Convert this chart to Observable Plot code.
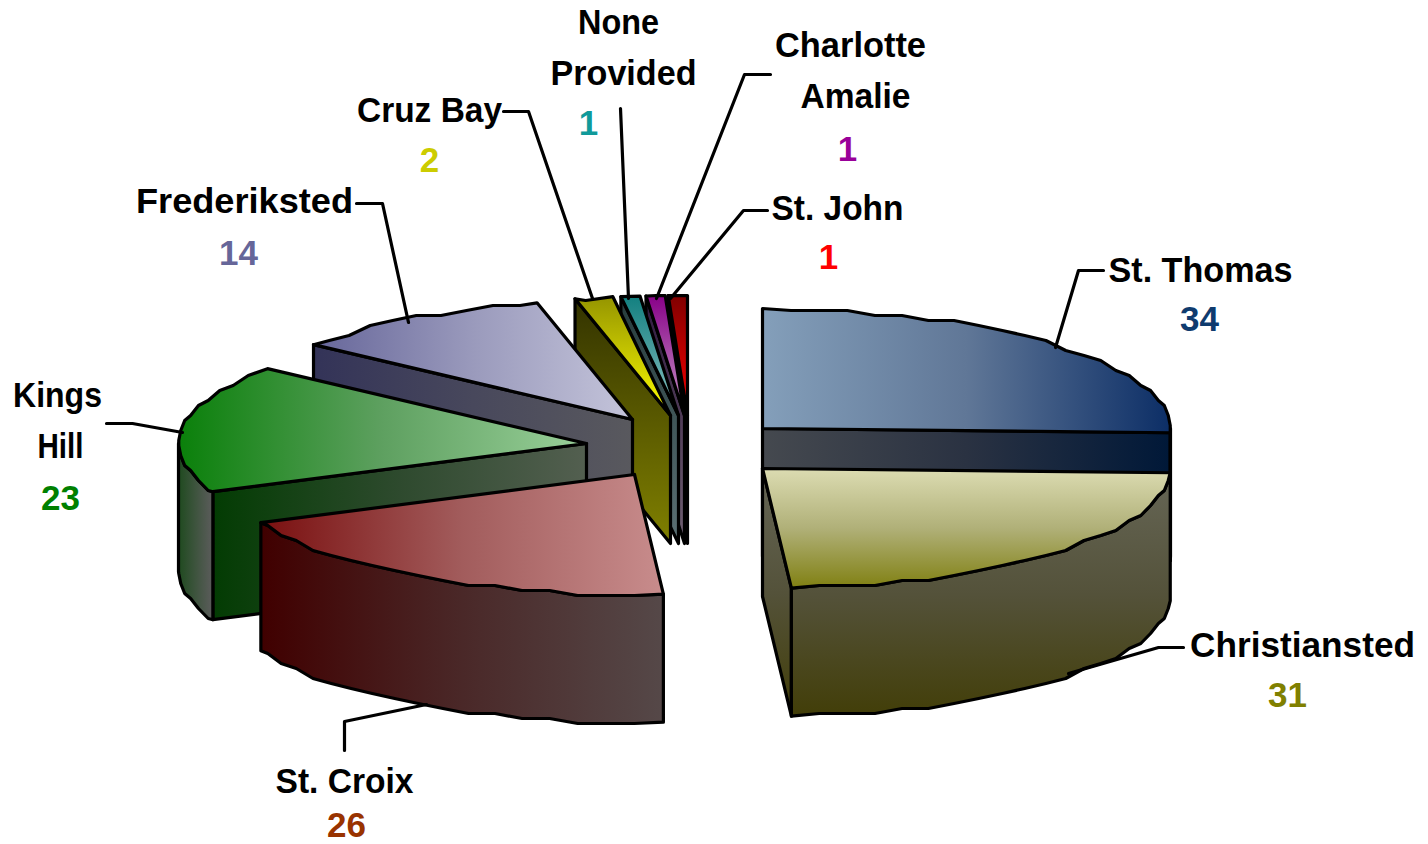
<!DOCTYPE html>
<html>
<head>
<meta charset="utf-8">
<style>html,body{margin:0;padding:0;background:#fff}svg{display:block}</style>
<script src="https://cdn.jsdelivr.net/npm/d3@7"></script>
<script src="https://cdn.jsdelivr.net/npm/@observablehq/plot@0.6"></script>
</head>
<body>
<div id="chart"></div>
<script>
// ---- data ----
const categories = ["St. Thomas","Christiansted","St. Croix","Kings Hill","Frederiksted","Cruz Bay","None Provided","Charlotte Amalie","St. John"];
const values = [34,31,26,23,14,2,1,1,1];
const valueColors = ["#0f3b6e","#808000","#993300","#008000","#666699","#cccc00","#109a9a","#990099","#ff0000"];

// ---- gradients: [direction, evenly spaced colours...] per slice ----
const topFills  = [["h","#849fba","#607797","#0c2e66"],["v","#dcdcb2","#b0b078","#808012"],["h","#7a0f0f","#a25c5c","#c88c8c"],["h","#0a800a","#5ea060","#9ad09a"],["h","#66669a","#9a9abc","#c4c4da"],["v","#959500","#c8c800","#ffff00"],["v","#128080","#50a0a0","#90c8c8"],["v","#880088","#a850a8","#c890c8"],["v","#800000","#c00000","#ff0000"]];
const faceFills = [["h","#45494f","#2a3242","#001838"],["v","#666656","#54523a","#423e08"],["h","#400000","#4a2828","#554848"],["h","#033c03","#2e4a2e","#535f50"],["h","#333358","#48485c","#59595e"],["v","#333300","#5a5a00","#808000"],["v","#263c3c","#405658","#5c7074"],["v","#301a40","#503c58","#706072"],["v","#1a0000","#0c0000","#000000"]];
const sideFills = [["h","#45494f","#2a3242","#001838"],["v","#666656","#54523a","#423e08"],["h","#400000","#4a2828","#554848"],["h","#1f4a1f","#3e543e","#5c5c5c"],["h","#333358","#48485c","#59595e"],["v","#333300","#5a5a00","#808000"],["v","#263c3c","#405658","#5c7074"],["v","#301a40","#503c58","#706072"],["v","#1a0000","#0c0000","#000000"]];

// ---- layout of the exploded 3-D pie ----
const radiusX = 408, radiusY = 120, depth = 128, strokeW = 3.2, stepDeg = 4, grain = 5;
const apexX = [762,762,634,586,632,670,678,684,687];
const apexY = [428,468,474,443,419,415,415,415,415];
const drawOrder = [8,7,6,5,4,3,2,0,1];

// ---- labels and leaders ----
const labelText = ["St. Thomas","Christiansted","St. Croix","Kings","Hill","Frederiksted","Cruz Bay","None","Provided","Charlotte","Amalie","St. John"];
const labelX = [1200,1302,344,57,60,244,429,618,623,850,855,837];
const labelY = [270,645,781,395,446,201,110,22,73,45,96,208];
const labelWidth = [184,225,138,89,46,217,145,81,146,151,110,132];
const valueX = [1199,1287,346,60,238,429,588,847,828];
const valueY = [319,695,825,498,253,160,123,149,257];
const leaderPaths = [
  [[1055,347],[1078,270],[1103,270]],
  [[1068,673],[1158,647],[1183,647]],
  [[426,704],[344,721],[344,750]],
  [[182,432],[132,423],[106,423]],
  [[408,322],[382,203],[356,203]],
  [[592,298],[528,111],[503,111]],
  [[628,298],[620,108]],
  [[656,298],[744,74],[770,74]],
  [[670,298],[743,210],[767,210]]
];

// ---- geometry from the values ----
const total = d3.sum(values);
const cum = d3.cumsum(values);
const startA = values.map((v,i) => (cum[i]-v)/total*360);
const endA = values.map((v,i) => cum[i]/total*360);
const rad = a => a*Math.PI/180;
const ell = (i,a) => [apexX[i]+radiusX*Math.sin(rad(a)), apexY[i]-radiusY*Math.cos(rad(a))];
const snap = p => [p[0], Math.round(p[1]/grain)*grain];
function arc(i,a0,a1){
  const pts=[ell(i,a0)];
  const first=Math.ceil((a0+1)/stepDeg)*stepDeg;
  for(let a=first;a<a1-1;a+=stepDeg) pts.push(snap(ell(i,a)));
  pts.push(ell(i,a1));
  return pts;
}
const drop = p => [p[0],p[1]+depth];
const topPoly = i => [[apexX[i],apexY[i]],...arc(i,startA[i],endA[i])];
const facePoly = (i,a) => { const c=[apexX[i],apexY[i]], e=ell(i,a); return [c,e,drop(e),drop(c)]; };
function sidePoly(i){
  const a0=Math.max(startA[i],90), a1=Math.min(endA[i],270);
  if(a1<=a0) return null;
  const a=arc(i,a0,a1);
  return [...a,...a.slice().reverse().map(drop)];
}

function gradient(defs,id,[dir,...cols]){
  const g=defs.append("linearGradient").attr("id",id).attr("x1",0).attr("y1",0)
    .attr("x2",dir==="h"?1:0).attr("y2",dir==="v"?1:0);
  cols.forEach((c,k)=>g.append("stop").attr("offset",k/(cols.length-1)).attr("stop-color",c));
}
const defsMark = () => {
  const defs=d3.create("svg:defs");
  values.forEach((v,i)=>{
    gradient(defs,`top${i}`,topFills[i]);
    gradient(defs,`face${i}`,faceFills[i]);
    gradient(defs,`side${i}`,sideFills[i]);
  });
  return defs.node();
};
const polyMark = (poly,fill) => Plot.line([...poly,poly[0],poly[1]],{x:d=>d[0],y:d=>d[1],fill,stroke:"#000",strokeWidth:strokeW,strokeLinejoin:"round"});

const sliceMarks = drawOrder.flatMap(i=>{
  const m=[];
  if(Math.sin(rad(startA[i]))<-1e-6) m.push(polyMark(facePoly(i,startA[i]),`url(#face${i})`));
  if(Math.sin(rad(endA[i]))>1e-6) m.push(polyMark(facePoly(i,endA[i]),`url(#face${i})`));
  const s=sidePoly(i);
  if(s) m.push(polyMark(s,`url(#side${i})`));
  m.push(polyMark(topPoly(i),`url(#top${i})`));
  return m;
});
const leaderMarks = leaderPaths.map(p=>Plot.line(p,{x:d=>d[0],y:d=>d[1],stroke:"#000",strokeWidth:strokeW}));

const font={fontFamily:"'Liberation Sans',Arial,sans-serif",fontWeight:"bold",textAnchor:"middle",lineAnchor:"middle"};
const chart=Plot.plot({
  width:1428,height:844,margin:0,
  x:{domain:[0,1428],range:[0,1428],axis:null},
  y:{domain:[0,844],range:[0,844],axis:null},
  style:{background:"#fff"},
  marks:[
    defsMark,
    ...sliceMarks,
    ...leaderMarks,
    Plot.text(labelText,{x:(d,i)=>labelX[i],y:(d,i)=>labelY[i],text:d=>d,fill:"#000",fontSize:35,className:"cat-label",...font}),
    Plot.text(values,{x:(d,i)=>valueX[i],y:(d,i)=>valueY[i],text:d=>String(d),fill:(d,i)=>valueColors[i],fontSize:35,...font})
  ]
});
document.getElementById("chart").append(chart);
// fit each label to the width it has in the picture
d3.select(chart).selectAll(".cat-label text")
  .attr("textLength",(d,i)=>labelWidth[i])
  .attr("lengthAdjust","spacingAndGlyphs");
</script>
</body>
</html>
